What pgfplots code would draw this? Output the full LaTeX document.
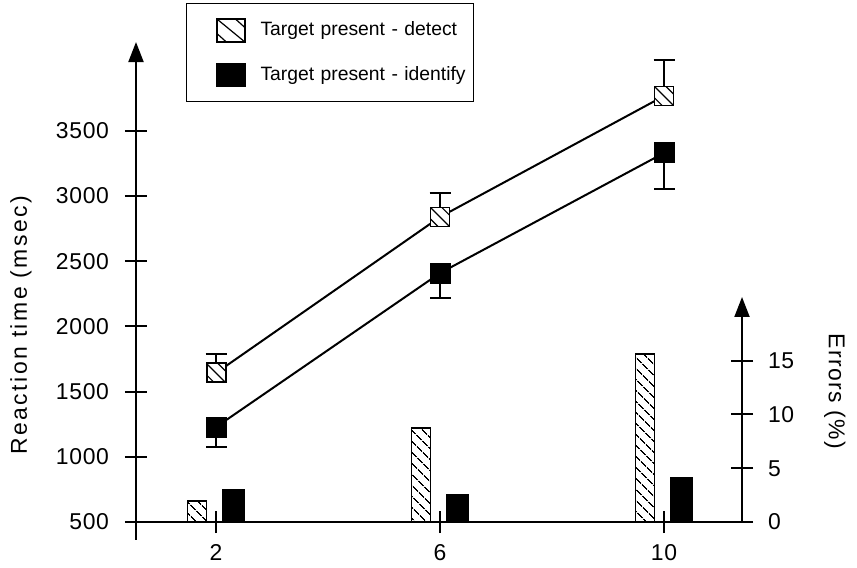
\documentclass[border=0pt]{standalone}
\usepackage{fontspec}
\setmainfont{Liberation Sans}
\usepackage{pgfplots}
\pgfplotsset{compat=1.18}
\usetikzlibrary{arrows.meta,patterns.meta}

% white square with a "\" hatch, for the detect series
\pgfdeclareplotmark{hatchsq}{%
  \pgfpathrectangle{\pgfpoint{-\pgfplotmarksize}{-\pgfplotmarksize}}{\pgfpoint{2\pgfplotmarksize}{2\pgfplotmarksize}}%
  \pgfsetfillcolor{white}\pgfusepathqfillstroke
  \pgfsetlinewidth{0.6bp}%
  \pgfpathmoveto{\pgfpoint{-\pgfplotmarksize}{\pgfplotmarksize}}\pgfpathlineto{\pgfpoint{\pgfplotmarksize}{-\pgfplotmarksize}}%
  \pgfpathmoveto{\pgfpoint{-\pgfplotmarksize}{-0.2\pgfplotmarksize}}\pgfpathlineto{\pgfpoint{-0.2\pgfplotmarksize}{-\pgfplotmarksize}}%
  \pgfpathmoveto{\pgfpoint{0.2\pgfplotmarksize}{\pgfplotmarksize}}\pgfpathlineto{\pgfpoint{\pgfplotmarksize}{0.2\pgfplotmarksize}}%
  \pgfusepathqstroke
}

\newcommand{\lblfont}{\fontsize{11.5}{13}\selectfont\addfontfeature{LetterSpace=6}}
\newcommand{\tckfont}{\fontsize{11.5}{13}\selectfont\addfontfeature{LetterSpace=3}}

\begin{document}
\begin{tikzpicture}
\useasboundingbox (0,0) rectangle (428.5bp,284bp);

\begin{axis}[
  at={(68bp,23bp)}, anchor=south west,
  x=28bp, y=0.0652bp,
  xmin=0.5714, xmax=11.393,
  ymin=500, ymax=4181,
  axis x line=bottom, axis y line=left,
  axis line style={line width=1bp},
  x axis line style={-},
  y axis line style={-{Triangle[length=10bp,width=7.5bp]}},
  xtick={2,6,10}, ytick={500,1000,...,3500},
  tick align=center, major tick length=11bp,
  tick style={line width=1bp, black},
  /pgf/number format/assume math mode=true,
  /pgf/number format/1000 sep={},
  tick label style={font=\tckfont},
  yticklabel style={xshift=-4.5bp},
  xticklabel style={yshift=-2bp},
  clip=false,
  every axis y label/.style={at={(axis description cs:-0.19,0.41)}, rotate=90, anchor=center,
    font=\fontsize{11.5}{13}\selectfont\addfontfeature{LetterSpace=11}},
  ylabel={Reaction time (msec)},
  legend style={at={(axis description cs:0.0825,1.081)}, anchor=north west,
    draw=black, line width=0.5bp, inner xsep=0pt, inner ysep=2bp,
    row sep=0pt, font=\fontsize{9.7}{11}\selectfont,
    nodes={inner sep=0pt, text width=106.5bp, align=left}},
  legend cell align=left,
]
\addplot[line width=1bp, black, mark=hatchsq, mark size=4.75bp,
  mark options={line width=1bp},
  legend image code/.code={
    \path[draw=none, fill=none] (0bp,-11.25bp) rectangle (37bp,11.25bp);
    \draw[line width=1bp, fill=white] (15bp,-5.75bp) rectangle (29bp,5.75bp);
    \begin{scope}
      \clip (15bp,-5.75bp) rectangle (29bp,5.75bp);
      \draw[line width=0.6bp] (15bp,5.75bp) -- (29bp,-5.75bp)
        (15bp,-1.5bp) -- (20bp,-6bp) (24bp,6bp) -- (29bp,1.5bp);
    \end{scope}
    \draw[line width=1bp] (15bp,-5.75bp) rectangle (29bp,5.75bp);},
  error bars/.cd, y dir=plus, y explicit,
  error bar style={line width=1bp},
  error mark options={rotate=90, line width=1bp, mark size=5.25bp}]
  coordinates {(2,1643) +- (0,145) (6,2839) +- (0,184) (10,3767) +- (0,276)};
\addlegendentry{Target present - detect}
\addplot[line width=1bp, black, mark=square*, mark size=4.75bp,
  mark options={line width=1bp, fill=black},
  legend image code/.code={
    \path[draw=none, fill=none] (0bp,-11.25bp) rectangle (37bp,11.25bp);
    \fill[black] (15bp,-5.5bp) rectangle (29bp,5.5bp);},
  error bars/.cd, y dir=minus, y explicit,
  error bar style={line width=1bp},
  error mark options={rotate=90, line width=1bp, mark size=5.25bp}]
  coordinates {(2,1228) +- (0,153) (6,2409) +- (0,191) (10,3330) +- (0,276)};
\addlegendentry{Target present - identify}

% short stub of the y axis below the x axis
\draw[line width=1bp] (axis cs:0.5714,500) -- ++(0pt,-9bp);
\end{axis}

\begin{axis}[
  at={(68bp,23bp)}, anchor=south west,
  x=28bp, y=5.375bp,
  xmin=0.5714, xmax=11.393,
  ymin=0, ymax=20.93,
  axis x line=none, axis y line=right,
  axis line style={line width=1bp},
  y axis line style={-{Triangle[length=10bp,width=7.5bp]}},
  ytick={0,5,10,15},
  tick align=center, major tick length=11bp,
  tick style={line width=1bp, black},
  /pgf/number format/assume math mode=true,
  tick label style={font=\tckfont},
  yticklabel style={xshift=4bp},
  clip=false,
  every axis y label/.style={at={(axis description cs:1.153,0.582)}, rotate=-90, anchor=center,
    font=\lblfont},
  ylabel={Errors (\%)},
]
\addplot[ybar, bar width=9.5bp, bar shift=-9.5bp, draw=black, line width=0.9bp,
  pattern={Lines[angle=-45, distance=3.9bp, line width=0.7bp]}]
  coordinates {(2,1.95) (6,8.74) (10,15.6)};
\addplot[ybar, bar width=11bp, bar shift=8.5bp, draw=black, fill=black, line width=0.5bp]
  coordinates {(2,2.98) (6,2.6) (10,4.1)};
\end{axis}
\end{tikzpicture}
\end{document}
